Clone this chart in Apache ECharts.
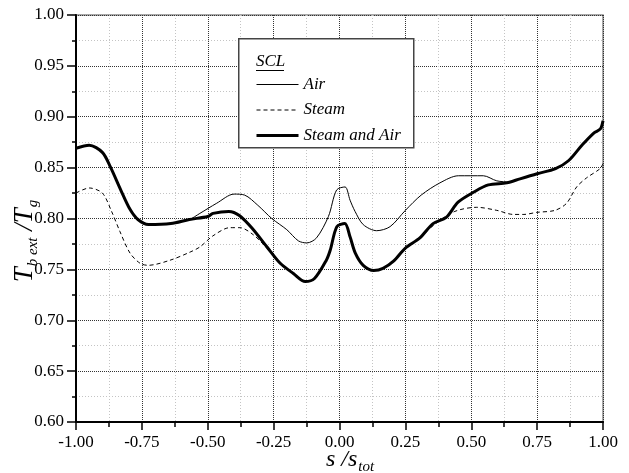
<!DOCTYPE html>
<html>
<head>
<meta charset="utf-8">
<script src="https://cdn.jsdelivr.net/npm/echarts@6/dist/echarts.min.js"></script>
<style>
  html, body { margin: 0; padding: 0; background: #fff; }
  #chart { width: 629px; height: 473px; }
</style>
</head>
<body>
<div id="chart"></div>
<script>
// Normalised blade-surface temperature T_b,ext / T_g along s / s_tot
const sSteamAir = [-1.00, -0.95, -0.90, -0.87, -0.83, -0.795, -0.765, -0.725, -0.64, -0.57, -0.50, -0.48, -0.42, -0.38, -0.33, -0.275, -0.225, -0.175, -0.13, -0.095, -0.05, -0.035, -0.01, 0.02, 0.04, 0.06, 0.09, 0.13, 0.165, 0.205, 0.25, 0.305, 0.355, 0.405, 0.45, 0.51, 0.565, 0.635, 0.685, 0.75, 0.82, 0.87, 0.92, 0.965, 0.99, 1.00];
const tSteamAir = [0.869, 0.872, 0.865, 0.851, 0.828, 0.809, 0.799, 0.794, 0.795, 0.799, 0.802, 0.805, 0.807, 0.803, 0.790, 0.772, 0.756, 0.746, 0.738, 0.741, 0.759, 0.769, 0.792, 0.795, 0.782, 0.766, 0.754, 0.749, 0.751, 0.758, 0.771, 0.781, 0.795, 0.801, 0.816, 0.826, 0.833, 0.835, 0.839, 0.844, 0.849, 0.857, 0.872, 0.884, 0.888, 0.896];

const sAir = [-1.00, -0.95, -0.90, -0.87, -0.83, -0.795, -0.765, -0.725, -0.64, -0.57, -0.53, -0.466, -0.40, -0.36, -0.31, -0.257, -0.20, -0.156, -0.124, -0.087, -0.042, -0.011, 0.021, 0.040, 0.059, 0.090, 0.141, 0.192, 0.25, 0.31, 0.381, 0.451, 0.546, 0.597, 0.647, 0.685, 0.75, 0.82, 0.87, 0.92, 0.965, 0.99, 1.00];
const tAir = [0.869, 0.872, 0.865, 0.851, 0.828, 0.809, 0.799, 0.794, 0.795, 0.799, 0.805, 0.815, 0.824, 0.823, 0.813, 0.800, 0.789, 0.778, 0.776, 0.781, 0.802, 0.828, 0.831, 0.818, 0.807, 0.794, 0.788, 0.792, 0.808, 0.823, 0.835, 0.842, 0.842, 0.837, 0.836, 0.839, 0.844, 0.849, 0.857, 0.872, 0.884, 0.888, 0.896];

const sSteam = [-1.00, -0.95, -0.90, -0.865, -0.833, -0.795, -0.757, -0.726, -0.643, -0.567, -0.53, -0.48, -0.416, -0.378, -0.327, -0.276, -0.225, -0.175, -0.13, -0.095, -0.05, -0.035, -0.01, 0.02, 0.04, 0.06, 0.09, 0.13, 0.165, 0.205, 0.25, 0.305, 0.36, 0.438, 0.521, 0.597, 0.66, 0.70, 0.748, 0.818, 0.862, 0.90, 0.938, 0.989, 1.00];
const tSteam = [0.825, 0.830, 0.825, 0.807, 0.787, 0.766, 0.756, 0.754, 0.759, 0.767, 0.772, 0.783, 0.791, 0.791, 0.784, 0.771, 0.756, 0.746, 0.738, 0.741, 0.759, 0.769, 0.792, 0.795, 0.782, 0.766, 0.754, 0.749, 0.751, 0.758, 0.771, 0.781, 0.794, 0.807, 0.811, 0.808, 0.804, 0.804, 0.806, 0.808, 0.815, 0.831, 0.840, 0.849, 0.854];

const seriesNames = ['Air', 'Steam', 'Steam and Air'];
const legendTitle = 'SCL';

const zip = (xs, ys) => xs.map((x, i) => [x, ys[i]]);
const serif = '"Liberation Serif", "DejaVu Serif", serif';

// line styles shared by each curve and its legend sample
const styleAir = { color: '#000', width: 1, type: 'solid' };
const styleSteam = { color: '#000', width: 1, type: [4, 3] };
const styleSteamAir = { color: '#000', width: 3, type: 'solid' };

const chart = echarts.init(document.getElementById('chart'), null, { renderer: 'canvas' });

const axisCommon = {
  axisLine: { show: true, onZero: false, lineStyle: { color: '#000', width: 2 } },
  axisLabel: { color: '#000', fontFamily: serif, fontSize: 17, formatter: v => v.toFixed(2) },
  splitLine: { show: true, lineStyle: { color: '#333', width: 1, type: [1, 1] } },
  minorSplitLine: { show: true, lineStyle: { color: '#c4c4c4', width: 1, type: [1, 2] } }
};

chart.setOption({
  animation: false,
  backgroundColor: '#fff',
  grid: { left: 76, right: 26, top: 15, bottom: 51, show: true, borderColor: '#8a8a8a', borderWidth: 1.5, backgroundColor: 'transparent' },
  xAxis: Object.assign({}, axisCommon, {
    type: 'value', min: -1, max: 1, interval: 0.25,
    axisTick: { show: true, inside: false, length: 8, lineStyle: { color: '#000', width: 1.5 } },
    minorTick: { show: true, splitNumber: 2, length: 5, lineStyle: { color: '#000', width: 1.5 } },
    axisLabel: Object.assign({}, axisCommon.axisLabel, { margin: 12 })
  }),
  yAxis: Object.assign({}, axisCommon, {
    type: 'value', min: 0.60, max: 1.00, interval: 0.05,
    axisTick: { show: true, inside: false, length: 9, lineStyle: { color: '#000', width: 1.5 } },
    minorTick: { show: true, splitNumber: 2, length: 4, lineStyle: { color: '#000', width: 1.5 } },
    axisLabel: Object.assign({}, axisCommon.axisLabel, { margin: 12 })
  }),
  legend: {
    show: true,
    z: 100,
    orient: 'vertical',
    left: 255, top: 76,
    padding: 0,
    itemWidth: 42, itemHeight: 14, itemGap: 8.5,
    data: [
      { name: seriesNames[0], lineStyle: styleAir },
      { name: seriesNames[1], lineStyle: styleSteam },
      { name: seriesNames[2], lineStyle: styleSteamAir }
    ],
    // line sample only, no marker
    itemStyle: { opacity: 0, color: 'transparent', borderWidth: 0 },
    textStyle: { fontFamily: serif, fontStyle: 'italic', fontSize: 17, color: '#000' }
  },
  graphic: [
    { type: 'rect', left: 238, top: 38, z: 50,
      shape: { width: 175, height: 109 },
      style: { fill: '#fff', stroke: '#444', lineWidth: 1.5 } },
    { type: 'text', left: 256, top: 53, z: 60,
      style: { text: legendTitle, font: 'italic 17px ' + serif, fill: '#000' } },
    { type: 'line', z: 60,
      shape: { x1: 256, y1: 70.5, x2: 284, y2: 70.5 },
      style: { stroke: '#000', lineWidth: 1 } },
    // y-axis title, rotated
    { type: 'text', x: 25, y: 241, rotation: Math.PI / 2, z: 60,
      style: {
        text: '{m|T}{s|b ext}{m| /T}{s|g}',
        align: 'center', verticalAlign: 'middle',
        rich: {
          m: { fontFamily: serif, fontStyle: 'italic', fontSize: 27, lineHeight: 27, fill: '#000' },
          s: { fontFamily: serif, fontStyle: 'italic', fontSize: 15, lineHeight: 15, padding: [16, 0, 0, 1], fill: '#000' }
        }
      } },
    // x-axis title
    { type: 'text', x: 350, y: 460, z: 60,
      style: {
        text: '{m|s /s}{s|tot}',
        align: 'center', verticalAlign: 'middle',
        rich: {
          m: { fontFamily: serif, fontStyle: 'italic', fontSize: 24, lineHeight: 24, fill: '#000' },
          s: { fontFamily: serif, fontStyle: 'italic', fontSize: 15, lineHeight: 15, padding: [15, 0, 0, 1], fill: '#000' }
        }
      } }
  ],
  series: [
    { name: seriesNames[0], type: 'line', data: zip(sAir, tAir), smooth: 0.3, showSymbol: false, symbol: 'none',
      lineStyle: styleAir, itemStyle: { color: '#000' }, z: 3 },
    { name: seriesNames[1], type: 'line', data: zip(sSteam, tSteam), smooth: 0.3, showSymbol: false, symbol: 'none',
      lineStyle: styleSteam, itemStyle: { color: '#000' }, z: 3 },
    { name: seriesNames[2], type: 'line', data: zip(sSteamAir, tSteamAir), smooth: 0.3, showSymbol: false, symbol: 'none',
      lineStyle: styleSteamAir, itemStyle: { color: '#000' }, z: 4 }
  ]
});
</script>
</body>
</html>
